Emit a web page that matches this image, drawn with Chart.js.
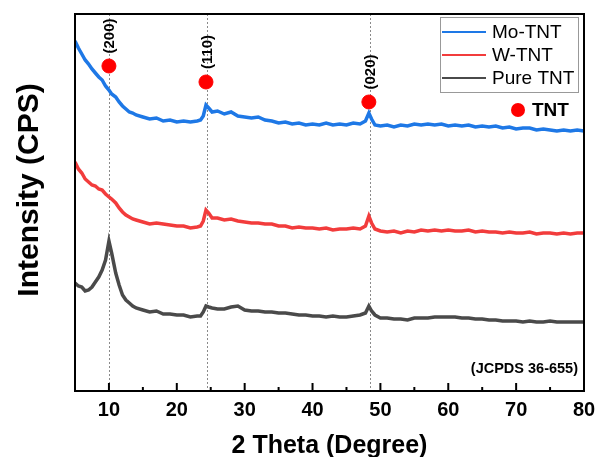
<!DOCTYPE html>
<html lang="en">

<head>
    <meta charset="UTF-8">
    <title>XRD TNT</title>
    <script src="https://cdn.jsdelivr.net/npm/chart.js"></script>
    <style>
        body { margin: 0; background: #fff; }
        .grafico { width: 597px; height: 457px; }
    </style>
</head>

<body>
    <div class="grafico">
        <canvas id="xrdChart" width="597" height="457"></canvas>
    </div>
</body>

</html>
<script>
    // 2 theta positions (degree)
    const theta = [5, 5.5, 6, 6.5, 7, 7.5, 8, 8.5, 9, 9.5, 10, 10.4, 11, 11.5, 12, 12.5, 13, 13.5, 14,
        15, 16, 17, 18, 19, 20, 21, 22, 23,
        23.5, 23.9, 24.3, 24.7, 25.2,
        26, 27, 28, 29, 30, 31, 32, 33, 34, 35, 36, 37, 38, 39, 40, 41, 42, 43, 44, 45, 46, 47,
        47.8, 48.3, 48.7, 49.2,
        50, 51, 52, 53, 54, 55, 56, 57, 58, 59, 60, 61, 62, 63, 64, 65, 66, 67, 68, 69,
        70, 71, 72, 73, 74, 75, 76, 77, 78, 79, 80];

    // intensities (a.u., stacked with offsets)
    const moTNT = [350, 343, 337, 331, 327, 322, 318, 314, 311, 305, 301, 297, 294, 289, 285, 282, 279, 278, 276,
        274, 272, 273, 270, 271, 269, 270, 269, 270,
        271, 275, 286, 283, 279,
        280, 277, 279, 275, 274, 273, 274, 271, 270, 268, 269, 267, 268, 266, 267, 266, 268, 266, 267, 266, 268, 267,
        270, 278, 272, 266,
        265, 266, 264, 266, 265, 267, 266, 267, 266, 267, 265, 266, 265, 266, 264, 265, 264, 265, 263, 264,
        262, 263, 263, 261, 262, 261, 260, 261, 260, 261, 260];

    const wTNT = [229, 222, 218, 212, 209, 206, 205, 202, 201, 197, 194, 192, 188, 183, 179, 176, 174, 172, 171,
        169, 167, 168, 167, 166, 165, 165, 163, 164,
        165, 170, 181, 178, 173,
        173, 171, 172, 170, 169, 168, 168, 167, 167, 165, 165, 163, 164, 163, 163, 162, 163, 161, 162, 162, 163, 162,
        165, 175, 168, 162,
        160, 159, 160, 158, 160, 159, 161, 160, 161, 160, 161, 160, 160, 161, 159, 160, 159, 159, 158, 159,
        158, 158, 159, 157, 158, 158, 157, 158, 157, 158, 158];

    const pureTNT = [108, 105, 104, 100, 101, 104, 109, 114, 121, 131, 150, 138, 118, 106, 96, 91, 88, 85, 83,
        81, 79, 80, 77, 77, 76, 76, 74, 75,
        75, 79, 85, 84, 83,
        82, 82, 84, 85, 81, 80, 80, 79, 79, 78, 78, 77, 76, 76, 75, 75, 74, 75, 74, 74, 75, 76,
        78, 85, 80, 76,
        73, 73, 72, 72, 71, 73, 73, 73, 74, 74, 74, 74, 73, 73, 72, 72, 71, 71, 70, 70,
        70, 69, 70, 69, 69, 70, 69, 69, 69, 69, 69];

    // TNT reflections
    const peakTheta = [10, 24.5, 48.5];
    const peakLabels = ["(200)", "(110)", "(020)"];
    const markerTheta = [10, 24.3, 48.3];
    const markerY = [325, 309, 289];

    const xTicks = [10, 20, 30, 40, 50, 60, 70, 80];

    const FONT = "'Liberation Sans', Arial, sans-serif";

    const toXY = (ys) => ys.map((y, i) => ({ x: theta[i], y: y }));

    const extras = {
        id: 'extras',
        beforeDatasetsDraw(chart) {
            const { ctx, chartArea: a, scales: { x } } = chart;
            ctx.save();
            ctx.strokeStyle = '#8a8a8a';
            ctx.lineWidth = 1;
            ctx.setLineDash([2, 2]);
            peakTheta.forEach(t => {
                const px = Math.round(x.getPixelForValue(t)) + 0.5;
                ctx.beginPath();
                ctx.moveTo(px, a.top);
                ctx.lineTo(px, a.bottom);
                ctx.stroke();
            });
            ctx.restore();
        },
        afterDraw(chart) {
            const { ctx, chartArea: a, scales: { x, y } } = chart;
            ctx.save();

            // frame
            ctx.strokeStyle = '#000';
            ctx.lineWidth = 2;
            ctx.strokeRect(a.left, a.top, a.right - a.left, a.bottom - a.top);

            // inward ticks on the bottom axis
            for (let v = 10; v < 80; v += 5) {
                const px = x.getPixelForValue(v);
                const len = v % 10 === 0 ? 8 : 4;
                ctx.beginPath();
                ctx.moveTo(px, a.bottom);
                ctx.lineTo(px, a.bottom - len);
                ctx.stroke();
            }

            // miller indices
            ctx.fillStyle = '#000';
            ctx.font = 'bold 15px ' + FONT;
            ctx.textAlign = 'center';
            ctx.textBaseline = 'middle';
            peakLabels.forEach((lbl, i) => {
                const px = x.getPixelForValue(peakTheta[i]) + 1;
                const py = y.getPixelForValue(markerY[i]) - 30;
                ctx.save();
                ctx.translate(px, py);
                ctx.rotate(-Math.PI / 2);
                ctx.fillText(lbl, 0, 0);
                ctx.restore();
            });

            // y title
            ctx.font = 'bold 30px ' + FONT;
            ctx.save();
            ctx.translate(30, 190);
            ctx.rotate(-Math.PI / 2);
            ctx.fillText('Intensity (CPS)', 0, 0);
            ctx.restore();

            // legend
            const lx = 440, ly = 17;
            ctx.strokeStyle = '#999';
            ctx.lineWidth = 1;
            ctx.strokeRect(lx + 0.5, ly + 0.5, 138, 75);
            ctx.textAlign = 'left';
            ctx.font = '19px ' + FONT;
            chart.data.datasets.slice(0, 3).forEach((ds, i) => {
                const ry = ly + 15 + i * 23;
                ctx.strokeStyle = ds.borderColor;
                ctx.lineWidth = 2;
                ctx.beginPath();
                ctx.moveTo(lx + 2, ry);
                ctx.lineTo(lx + 46, ry);
                ctx.stroke();
                ctx.fillStyle = '#000';
                ctx.fillText(ds.label, lx + 52, ry + 1);
            });

            // TNT key
            ctx.fillStyle = '#ff0000';
            ctx.beginPath();
            ctx.arc(518, 110, 7, 0, Math.PI * 2);
            ctx.fill();
            ctx.fillStyle = '#000';
            ctx.font = 'bold 19px ' + FONT;
            ctx.fillText('TNT', 532, 111);

            // card reference
            ctx.font = 'bold 14.5px ' + FONT;
            ctx.textAlign = 'right';
            ctx.fillText('(JCPDS 36-655)', a.right - 6, 369);

            ctx.restore();
        }
    };

    const config = {
        type: 'line',
        data: {
            datasets: [
                { label: 'Mo-TNT', data: toXY(moTNT), borderColor: '#1e78e6', borderWidth: 3.5 },
                { label: 'W-TNT', data: toXY(wTNT), borderColor: '#f23c3c', borderWidth: 3.5 },
                { label: 'Pure TNT', data: toXY(pureTNT), borderColor: '#4a4a4a', borderWidth: 3.5 },
                {
                    type: 'scatter', label: 'TNT',
                    data: markerTheta.map((t, i) => ({ x: t, y: markerY[i] })),
                    backgroundColor: '#ff0000', borderColor: '#ff0000',
                    pointRadius: 7, pointHoverRadius: 7
                }
            ]
        },
        options: {
            responsive: false,
            animation: false,
            events: [],
            elements: { point: { radius: 0 }, line: { tension: 0 } },
            layout: { autoPadding: false, padding: { top: 14, right: 13, left: 0, bottom: 0 } },
            plugins: { legend: { display: false }, tooltip: { enabled: false } },
            scales: {
                x: {
                    type: 'linear', min: 5, max: 80,
                    afterBuildTicks: s => { s.ticks = xTicks.map(v => ({ value: v })); },
                    afterFit: s => { s.height = 66; s.paddingLeft = 0; s.paddingRight = 0; },
                    grid: { display: false, drawTicks: false },
                    border: { display: false },
                    ticks: { color: '#000', padding: 7, font: { family: FONT, size: 20, weight: 'bold' } },
                    title: {
                        display: true, text: '2 Theta (Degree)', color: '#000',
                        font: { family: FONT, size: 25, weight: 'bold', lineHeight: 1 },
                        padding: { top: 0, bottom: -2 }
                    }
                },
                y: {
                    min: 0, max: 377,
                    afterFit: s => { s.width = 75; },
                    grid: { display: false },
                    border: { display: false },
                    ticks: { display: false }
                }
            }
        },
        plugins: [extras]
    };

    new Chart(document.getElementById('xrdChart'), config);
</script>
